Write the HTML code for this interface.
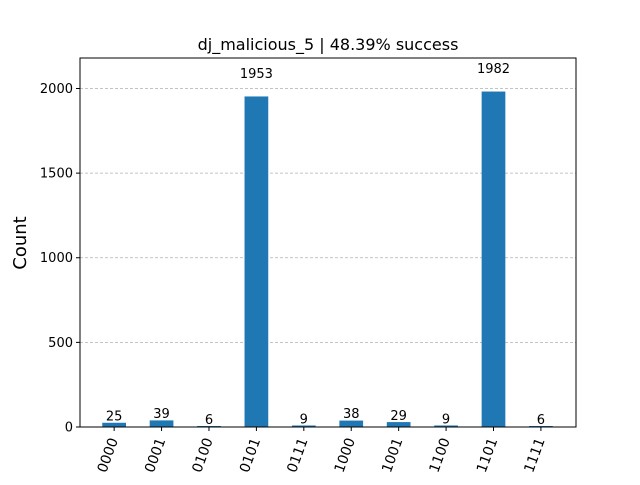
<!DOCTYPE html>
<html><head><meta charset="utf-8"><style>
body{margin:0;background:#fff}
svg{font-family:"DejaVu Sans","Liberation Sans",sans-serif}
</style></head><body>
<svg id="chart" width="640" height="480" viewBox="0 0 640 480">
<rect width="640" height="480" fill="#fff"/>
<text x="328" y="50" text-anchor="middle" font-size="16">dj_malicious_5 | 48.39% success</text>
<text transform="translate(26,243) rotate(-90)" text-anchor="middle" font-size="18">Count</text>
<g id="grid"></g><g id="bars"></g><g id="labels"></g><g id="yticks"></g><g id="xticks"></g>
<rect x="80" y="58" width="496" height="369" fill="none" stroke="#000" stroke-width="1"/>
</svg>
<script>
const categories=["0000","0001","0100","0101","0111","1000","1001","1100","1101","1111"];
const counts=[25,39,6,1953,9,38,29,9,1982,6];
const yTicks=[0,500,1000,1500,2000];
const L=80,R=576,T=58,B=427;
const ymax=Math.max(...counts)*1.1;
const y=v=>B-(v/ymax)*(B-T);
const step=(R-L)/(categories.length+0.46);
const x=i=>L+step*(0.72+i);
const bw=step*0.5;
const NS="http://www.w3.org/2000/svg";
function mk(tag,attrs,parent){const e=document.createElementNS(NS,tag);for(const k in attrs)e.setAttribute(k,attrs[k]);document.getElementById(parent).appendChild(e);return e;}
yTicks.forEach(t=>{
 const g=mk("line",{x1:L,x2:R,y1:y(t),y2:y(t),stroke:"#b0b0b0","stroke-dasharray":"3,2","stroke-width":0.8},"grid");
 
 
 const tk=mk("line",{x1:L-4,x2:L,y1:y(t),y2:y(t),stroke:"#000"},"yticks");
 
 
 const tl=mk("text",{x:L-7,y:y(t)+4.5,"text-anchor":"end","font-size":13},"yticks");
 tl.textContent=t;
 
 
});
categories.forEach((c,i)=>{
 const v=counts[i];
 const b=mk("rect",{x:x(i)-bw/2,y:y(v),width:bw,height:B-y(v),fill:"#1f77b4"},"bars");
 
 
 const lb=mk("text",{x:x(i),y:y(v*1.05)-2,"text-anchor":"middle","font-size":13},"labels");
 lb.textContent=v;
 
 
 const tk=mk("line",{x1:x(i),x2:x(i),y1:B,y2:B+4,stroke:"#000"},"xticks");
 
 
 const tl=mk("text",{transform:`translate(${x(i)+4},${B+13}) rotate(-70)`,"text-anchor":"end","font-size":14},"xticks");
 tl.textContent=c;
 
 
});
</script>
</body></html>
